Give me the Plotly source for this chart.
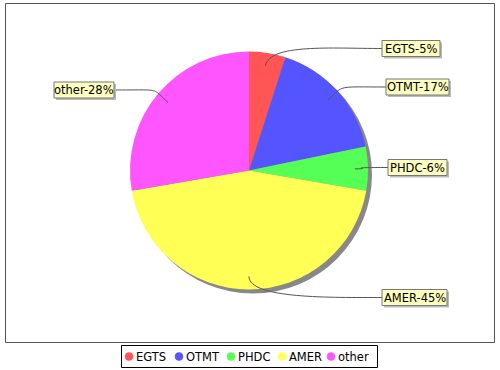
import math
import plotly.graph_objects as go

categories = ["EGTS", "OTMT", "PHDC", "AMER", "other"]
values = [5, 17, 6, 45, 28]
pct_labels = ["5%", "17%", "6%", "45%", "28%"]
colors = ["#FF5555", "#5555FF", "#55FF55", "#FFFF55", "#FF55FF"]

W, H = 500, 370
CX, CY, R = 249, 170.5, 119
SH = 4  # shadow offset

# label box layout (pixels): left x, center y, width
boxes = [(382, 48.5, 58), (386, 87, 63), (388, 167.5, 59), (382, 297.5, 65), (54, 90, 60)]
BOX_H = 16

def dom(cx, cy, r):
    return dict(x=[(cx - r) / W, (cx + r) / W], y=[1 - (cy + r) / H, 1 - (cy - r) / H])

FONT = "DejaVu Sans"
fig = go.Figure()
# shadow
fig.add_trace(go.Pie(values=[1], labels=["shadow"], marker=dict(colors=["#888888"]),
                     domain=dom(CX + SH, CY + SH, R), textinfo="none", hoverinfo="skip",
                     showlegend=False, sort=False))
fig.add_trace(go.Pie(values=values, labels=categories, marker=dict(colors=colors, line=dict(width=0)),
                     domain=dom(CX, CY, R), textinfo="none", sort=False, direction="clockwise",
                     rotation=0, showlegend=False, hoverinfo="label+percent"))

# hidden pixel axes
fig.update_xaxes(range=[0, W], visible=False, fixedrange=True)
fig.update_yaxes(range=[H, 0], visible=False, fixedrange=True)

shapes = []
annotations = []
# frame
shapes.append(dict(type="rect", xref="x", yref="y", x0=5.5, y0=3.5, x1=494.5, y1=342.5,
                   line=dict(color="#555555", width=1), fillcolor="rgba(0,0,0,0)", layer="below"))

total = sum(values)
cum = 0
for cat, v, p, (bx, by, bw) in zip(categories, values, pct_labels, boxes):
    mid = (cum + v / 2) / total * 2 * math.pi
    cum += v
    sx, sy = math.sin(mid), -math.cos(mid)
    ax, ay = CX + 0.89 * R * sx, CY + 0.89 * R * sy
    c1x, c1y = CX + 1.08 * R * sx, CY + 1.08 * R * sy
    left = bx > CX
    ex = bx if left else bx + bw
    c2x = ex - 50 if left else ex + 50
    path = f"M {ax:.1f},{ay:.1f} C {c1x:.1f},{c1y:.1f} {c2x:.1f},{by:.1f} {ex:.1f},{by:.1f}"
    shapes.append(dict(type="path", xref="x", yref="y", path=path,
                       line=dict(color="#555555", width=1), layer="above"))
    # box shadow
    shapes.append(dict(type="rect", xref="x", yref="y", x0=bx + 2, y0=by - BOX_H / 2 + 2,
                       x1=bx + bw + 2, y1=by + BOX_H / 2 + 2, line=dict(width=0),
                       fillcolor="#BBBBBB", layer="above"))
    shapes.append(dict(type="rect", xref="x", yref="y", x0=bx, y0=by - BOX_H / 2,
                       x1=bx + bw, y1=by + BOX_H / 2, line=dict(color="#777777", width=1),
                       fillcolor="#FFFFC0", layer="above"))
    annotations.append(dict(x=bx + bw / 2, y=by, xref="x", yref="y", text=f"{cat}-{p}",
                            showarrow=False, xanchor="center", yanchor="middle",
                            font=dict(family=FONT, size=11.5, color="black")))

# custom legend
shapes.append(dict(type="rect", xref="x", yref="y", x0=121.5, y0=345.5, x1=377.5, y1=367.5,
                   line=dict(color="black", width=1), fillcolor="white", layer="above"))
leg_x = [129, 179, 231, 282, 331]
for cat, col, lx in zip(categories, colors, leg_x):
    shapes.append(dict(type="circle", xref="x", yref="y", x0=lx - 4, y0=356.5 - 4, x1=lx + 4, y1=356.5 + 4,
                       line=dict(color=col, width=0.5), fillcolor=col, layer="above"))
    annotations.append(dict(x=lx + 5, y=356.5, xref="x", yref="y", text=cat, showarrow=False,
                            xanchor="left", yanchor="middle",
                            font=dict(family=FONT, size=11.5, color="black")))

fig.update_layout(width=W, height=H, margin=dict(l=0, r=0, t=0, b=0),
                  paper_bgcolor="white", plot_bgcolor="white",
                  shapes=shapes, annotations=annotations, showlegend=False)
fig.write_html("out.html", config={"displayModeBar": False},
               post_script="document.body.style.margin='0';document.body.style.overflow='hidden';")
